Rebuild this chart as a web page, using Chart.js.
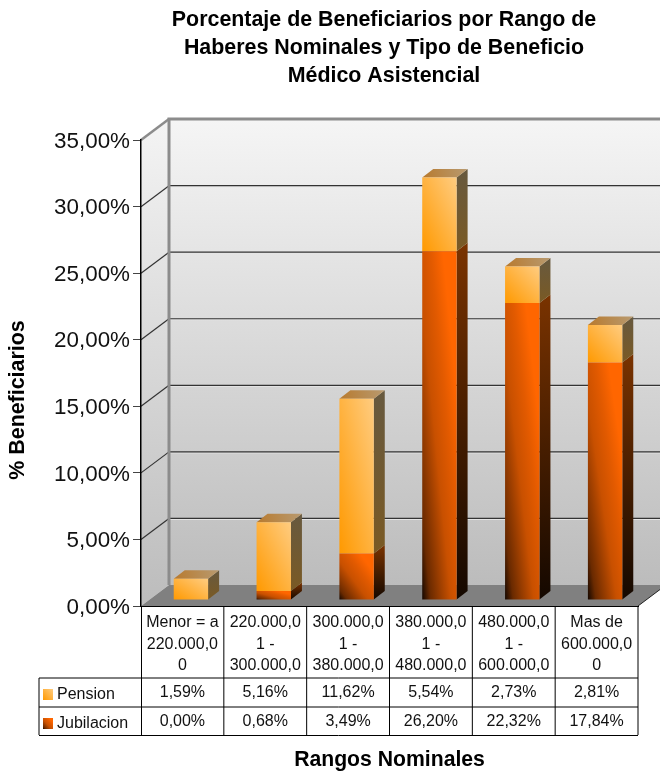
<!DOCTYPE html>
<html lang="es">
<head>
<meta charset="utf-8">
<title>Porcentaje de Beneficiarios</title>
<style>html,body{margin:0;padding:0;background:#fff}canvas{display:block}</style>
<script src="https://cdn.jsdelivr.net/npm/chart.js@4"></script>
</head>
<body>
<canvas id="c" width="660" height="771"></canvas>
<script>
const categories = [
  ['Menor = a', '220.000,0', '0'],
  ['220.000,0', '1 -', '300.000,0'],
  ['300.000,0', '1 -', '380.000,0'],
  ['380.000,0', '1 -', '480.000,0'],
  ['480.000,0', '1 -', '600.000,0'],
  ['Mas de', '600.000,0', '0']
];
const pension = [1.59, 5.16, 11.62, 5.54, 2.73, 2.81];
const jubilacion = [0.00, 0.68, 3.49, 26.20, 22.32, 17.84];
const seriesNames = ['Jubilacion', 'Pension'];
const titleLines = ['Porcentaje de Beneficiarios por Rango de', 'Haberes Nominales y Tipo de Beneficio', 'Médico Asistencial'];
const yAxisTitle = '% Beneficiarios';
const xAxisTitle = 'Rangos Nominales';

const FF = '"Liberation Sans", Arial, Helvetica, sans-serif';
const WALL = { dx: 28, dy: -21 };
const BAR_SHIFT = { dx: 8.5, dy: -6 };
const BAR_DEPTH = { dx: 11, dy: -8.5 };
const BAR_FRACTION = 0.415;
const fmt = v => v.toFixed(2).replace('.', ',') + '%';

function diagGradient(ctx, x, yTop, w, h, stops) {
  const y0 = yTop + h;
  const gx = 1 / (2 * w), gy = 1 / (2 * h);
  const m = gx * gx + gy * gy;
  const g = ctx.createLinearGradient(x, y0, x + gx / m, y0 - gy / m);
  stops.forEach(s => g.addColorStop(s[0], s[1]));
  return g;
}
const JUB_STOPS = [[0, '#140700'], [0.12, '#6a2a00'], [0.42, '#c85000'], [0.62, '#e25a00'], [0.8, '#ff6600'], [1, '#ff6600']];
const PEN_STOPS = [[0, '#ff9900'], [1, '#ffcc80']];

function frontFill(c) {
  const chart = c.chart;
  const sx = chart.scales.x, sy = chart.scales.y;
  if (!chart.chartArea || !sx || !sy || c.dataIndex === undefined) return '#ff6600';
  const i = c.dataIndex;
  const low = c.datasetIndex === 0 ? 0 : jubilacion[i];
  const high = c.datasetIndex === 0 ? jubilacion[i] : jubilacion[i] + pension[i];
  const yT = sy.getPixelForValue(high), yB = sy.getPixelForValue(low);
  const w = (chart.chartArea.width / categories.length) * BAR_FRACTION;
  const h = Math.max(yB - yT, 1);
  return diagGradient(chart.ctx, sx.getPixelForValue(i) - w / 2, yT, w, h, c.datasetIndex === 0 ? JUB_STOPS : PEN_STOPS);
}

const threeD = {
  id: 'threeD',
  afterLayout(chart) {
    if (chart.titleBlock) { chart.titleBlock.left = 0; chart.titleBlock.right = 768; }
  },
  beforeDraw(chart) {
    const { ctx, chartArea: a, scales: { y } } = chart;
    const W = chart.width;
    const L = a.left, B = a.bottom, T = a.top, R = a.right;
    const bx = L + WALL.dx, bT = T + WALL.dy, bB = B + WALL.dy;
    if (y.getLabelItems && !y._labelsNudged) {
      y.getLabelItems(a).forEach(it => { it.textOffset += 1.5; });
      y._labelsNudged = true;
    }
    ctx.save();
    let g = ctx.createLinearGradient(0, bT, 0, bB);
    g.addColorStop(0, '#f5f5f5'); g.addColorStop(1, '#bcbcbc');
    ctx.fillStyle = g;
    ctx.fillRect(bx, bT, W - bx, bB - bT);
    g = ctx.createLinearGradient(0, bT, 0, B);
    g.addColorStop(0, '#f4f4f4'); g.addColorStop(1, '#bcbcbc');
    ctx.fillStyle = g;
    ctx.beginPath();
    ctx.moveTo(L, T); ctx.lineTo(bx, bT); ctx.lineTo(bx, bB); ctx.lineTo(L, B);
    ctx.closePath(); ctx.fill();
    ctx.fillStyle = '#808080';
    const k = (W - R) / WALL.dx;
    ctx.beginPath();
    ctx.moveTo(L, B); ctx.lineTo(bx, bB); ctx.lineTo(W, bB);
    ctx.lineTo(W, B + WALL.dy * k); ctx.lineTo(R, B);
    ctx.closePath(); ctx.fill();
    ctx.strokeStyle = '#222'; ctx.lineWidth = 1;
    ctx.beginPath(); ctx.moveTo(R, B); ctx.lineTo(W, B + WALL.dy * k); ctx.stroke();
    y.ticks.forEach(t => {
      if (t.value === 0 || t.value === y.max) return;
      const py = y.getPixelForValue(t.value);
      ctx.strokeStyle = '#e6e6e6'; ctx.lineWidth = 1;
      ctx.beginPath(); ctx.moveTo(bx, py + WALL.dy + 1); ctx.lineTo(W, py + WALL.dy + 1); ctx.stroke();
      ctx.strokeStyle = '#333'; ctx.lineWidth = 1.2;
      ctx.beginPath(); ctx.moveTo(bx, py + WALL.dy); ctx.lineTo(W, py + WALL.dy); ctx.stroke();
      ctx.beginPath(); ctx.moveTo(L, py); ctx.lineTo(bx, py + WALL.dy); ctx.stroke();
    });
    ctx.strokeStyle = '#8c8c8c'; ctx.lineWidth = 3;
    ctx.beginPath(); ctx.moveTo(bx, bB); ctx.lineTo(bx, bT); ctx.lineTo(W, bT); ctx.stroke();
    ctx.lineWidth = 2.5;
    ctx.beginPath(); ctx.moveTo(L, T); ctx.lineTo(bx, bT); ctx.stroke();
    ctx.restore();
  },
  beforeDatasetsDraw(chart) {
    const { ctx } = chart;
    ctx.save();
    ctx.translate(BAR_SHIFT.dx, BAR_SHIFT.dy);
    const d = BAR_DEPTH;
    const jm = chart.getDatasetMeta(0).data, pm = chart.getDatasetMeta(1).data;
    categories.forEach((_, i) => {
      const j = jm[i], p = pm[i];
      const r = p.x + p.width / 2;
      const side = (top, bot, c0, c1) => {
        const g = ctx.createLinearGradient(0, top + d.dy, 0, bot);
        g.addColorStop(0, c0); g.addColorStop(1, c1);
        ctx.fillStyle = g;
        ctx.beginPath();
        ctx.moveTo(r, top); ctx.lineTo(r + d.dx, top + d.dy);
        ctx.lineTo(r + d.dx, bot + d.dy); ctx.lineTo(r, bot);
        ctx.closePath(); ctx.fill();
      };
      if (jubilacion[i] > 0) side(j.y, j.base, '#7a3300', '#140800');
      side(p.y, p.base, '#67593f', '#7a5a24');
      const left = p.x - p.width / 2;
      const g = ctx.createLinearGradient(left, p.y, r + d.dx, p.y + d.dy);
      g.addColorStop(0, '#b87a2e'); g.addColorStop(1, '#b89a70');
      ctx.fillStyle = g;
      ctx.beginPath();
      ctx.moveTo(left, p.y); ctx.lineTo(left + d.dx, p.y + d.dy);
      ctx.lineTo(r + d.dx, p.y + d.dy); ctx.lineTo(r, p.y);
      ctx.closePath(); ctx.fill();
    });
  },
  afterDatasetsDraw(chart) { chart.ctx.restore(); },
  afterDraw(chart) {
    const { ctx, chartArea: a, scales: { x } } = chart;
    const L = a.left, R = a.right;
    const rows = [678, 707, 735];
    const catW = a.width / categories.length;
    ctx.save();
    ctx.strokeStyle = '#000'; ctx.lineWidth = 1;
    rows.forEach(ry => {
      const yy = ry === 735 ? 735.5 : ry;
      ctx.beginPath(); ctx.moveTo(39, yy); ctx.lineTo(R, yy); ctx.stroke();
    });
    ctx.beginPath(); ctx.moveTo(39, 678); ctx.lineTo(39, 735); ctx.stroke();
    for (let i = 0; i <= categories.length; i++) {
      const xx = L + i * catW + (i === 0 ? 0.5 : 0);
      ctx.beginPath(); ctx.moveTo(xx, a.bottom); ctx.lineTo(xx, 735); ctx.stroke();
    }
    ctx.fillStyle = '#111';
    ctx.font = '16px ' + FF;
    ctx.textAlign = 'center'; ctx.textBaseline = 'middle';
    categories.forEach((_, i) => {
      const cx = x.getPixelForValue(i);
      ctx.fillText(fmt(pension[i]), cx, 693);
      ctx.fillText(fmt(jubilacion[i]), cx, 722);
    });
    ctx.textAlign = 'left';
    ctx.fillText(seriesNames[1], 57, 695);
    ctx.fillText(seriesNames[0], 57, 723.5);
    ctx.fillStyle = diagGradient(ctx, 43, 689, 10, 11, PEN_STOPS);
    ctx.fillRect(43, 689, 10, 11);
    ctx.fillStyle = diagGradient(ctx, 43, 718, 10, 11, JUB_STOPS);
    ctx.fillRect(43, 718, 10, 11);
    ctx.translate(18, 400);
    ctx.rotate(-Math.PI / 2);
    ctx.textAlign = 'center';
    ctx.fillStyle = '#000';
    ctx.font = 'bold 21.4px ' + FF;
    ctx.fillText(yAxisTitle, 0, 0);
    ctx.restore();
  }
};

new Chart(document.getElementById('c'), {
  type: 'bar',
  plugins: [threeD],
  data: {
    labels: categories,
    datasets: [
      { label: seriesNames[0], data: jubilacion, backgroundColor: frontFill, borderWidth: 0, stack: 's', clip: false },
      { label: seriesNames[1], data: pension, backgroundColor: frontFill, borderWidth: 0, stack: 's', clip: false }
    ]
  },
  options: {
    responsive: false,
    animation: false,
    devicePixelRatio: 1,
    layout: { padding: { left: 0, right: 22, top: 0, bottom: 0 } },
    datasets: { bar: { categoryPercentage: 1, barPercentage: BAR_FRACTION } },
    plugins: {
      legend: { display: false },
      tooltip: { enabled: false },
      title: {
        display: true,
        text: titleLines,
        color: '#000',
        font: { family: FF, size: 21.4, weight: 'bold', lineHeight: 1.31 },
        padding: { top: 6, bottom: 50 }
      }
    },
    scales: {
      x: {
        stacked: true,
        afterFit(s) { s.height = 165; },
        grid: { display: false },
        border: { display: true, color: '#000', width: 1 },
        ticks: {
          color: '#111',
          maxRotation: 0,
          minRotation: 0,
          autoSkip: false,
          padding: -2,
          font: { family: FF, size: 16, lineHeight: 1.34 }
        },
        title: {
          display: true,
          text: xAxisTitle,
          color: '#000',
          font: { family: FF, size: 21.2, weight: 'bold' },
          padding: { top: 0, bottom: -2 }
        }
      },
      y: {
        stacked: true,
        min: 0,
        max: 35,
        afterFit(s) { s.width = 141; },
        grid: { drawOnChartArea: false, drawTicks: true, tickLength: 8, color: '#444' },
        border: { display: true, color: '#000', width: 1.5 },
        ticks: {
          stepSize: 5,
          color: '#111',
          padding: 3,
          font: { family: FF, size: 22.4 },
          callback: v => fmt(v)
        }
      }
    }
  }
});
</script>
</body>
</html>
